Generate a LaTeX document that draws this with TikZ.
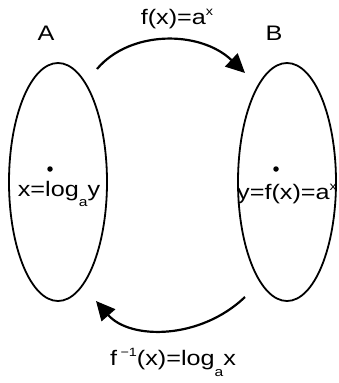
\documentclass[tikz,border=0pt]{standalone}
\usepackage{fontspec}
\setmainfont{Liberation Sans}[FakeStretch=1.2]
\usetikzlibrary{shapes.geometric,arrows.meta}
\newcommand{\lowsub}[1]{\raisebox{-0.5em}{\fontsize{13}{13}\selectfont #1}}
\newcommand{\highsup}[1]{\raisebox{0.45em}{\fontsize{12}{12}\selectfont #1}}
\begin{document}
\begin{tikzpicture}[
      x=1pt, y=-1pt,
      every node/.style={font=\fontsize{21}{25}\selectfont},
      set/.style={ellipse, draw=black, line width=1.8pt, minimum width=98pt, minimum height=238pt, inner sep=0pt},
      elem/.style={circle, fill=black, inner sep=0pt, minimum size=5.5pt},
      map/.style={line width=2.2pt, -{Triangle[length=19pt, width=18pt]}}
    ]
    \useasboundingbox (0,0) rectangle (339,383);

    \node[set] (A) at (58,182) {};
    \node[set] (B) at (287,182) {};

    \node (nameA) at (46,33) {A};
    \node (nameB) at (274,33) {B};

    \node[elem] (x) at (50,169) {};
    \node[elem] (y) at (276,169) {};
    \node (xlabel) at (59,194) {x=log\lowsub{a}y};
    \node (ylabel) at (287,194) {y=f(x)=a\highsup{x}};

    \coordinate (f start) at (97,69);
    \coordinate (f end) at (245,73);
    \coordinate (g start) at (245,297);
    \coordinate (g end) at (96,301);

    \draw[map] (f start) .. controls (130,30) and (200,30) .. (f end);
    \draw[map] (g start) .. controls (200,340) and (130,340) .. (g end);

    \node (flabel) at (177,19) {f(x)=a\highsup{x}};
    \node (glabel) at (173,362) {f\,\highsup{−1}(x)=log\lowsub{a}x};

  \end{tikzpicture}
\end{document}
